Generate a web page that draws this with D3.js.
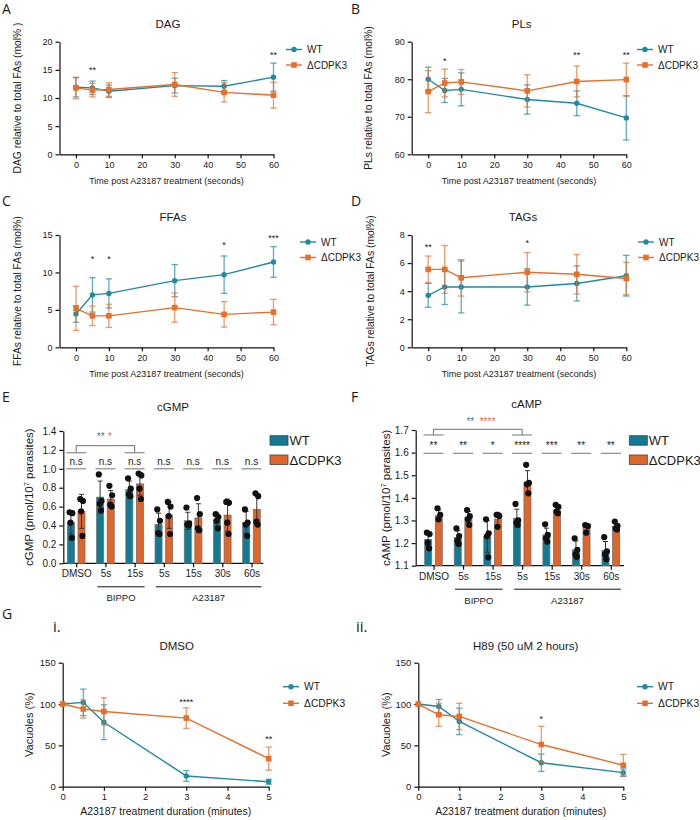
<!DOCTYPE html>
<html>
<head>
<meta charset="utf-8">
<script src="https://cdn.jsdelivr.net/npm/d3@7"></script>
<style>
  body { margin: 0; background: #fff; }
  svg text { font-family: "Liberation Sans", Arial, sans-serif; fill: #1a1a1a; }
  .letter { font-family: "Open Sans", "Liberation Sans", sans-serif !important; }
</style>
</head>
<body>
<div id="chart"></div>
<script>
// ---- lipid time courses (seconds post A23187) ----
const timesSec = [0, 5, 10, 30, 45, 60];

const dagWT   = [11.9, 11.8, 11.2, 12.2, 12.1, 13.7];
const dagWTsd = [1.7, 1.2, 1.1, 1.3, 1.0, 2.5];
const dagKO   = [11.8, 11.4, 11.5, 12.4, 11.0, 10.5];
const dagKOsd = [1.9, 1.2, 1.2, 2.1, 1.7, 2.3];
const dagStars = [{ t: 5, v: 15.3, s: "**" }, { t: 60, v: 18, s: "**" }];

const plWT   = [80.0, 77.0, 77.3, 74.6, 73.6, 69.7];
const plWTsd = [3.2, 3.2, 4.4, 3.9, 3.3, 5.9];
const plKO   = [76.7, 79.0, 79.3, 76.9, 79.4, 79.9];
const plKOsd = [5.6, 3.7, 3.3, 4.3, 4.1, 4.4];
const plStars = [{ t: 5, v: 85.4, s: "*" }, { t: 45, v: 87, s: "**" }, { t: 60, v: 87, s: "**" }];

const ffaWT   = [4.45, 7.0, 7.2, 8.9, 9.7, 11.4];
const ffaWTsd = [1.1, 2.3, 1.95, 2.15, 2.5, 2.05];
const ffaKO   = [5.2, 4.2, 4.2, 5.3, 4.4, 4.7];
const ffaKOsd = [2.95, 1.3, 1.55, 1.95, 1.7, 1.7];
const ffaStars = [{ t: 5, v: 12.1, s: "*" }, { t: 10, v: 12.1, s: "*" }, { t: 45, v: 13.9, s: "*" }, { t: 60, v: 14.9, s: "***" }];

const tagWT   = [3.7, 4.3, 4.3, 4.3, 4.55, 5.1];
const tagWTsd = [0.85, 1.25, 1.85, 1.3, 1.25, 1.45];
const tagKO   = [5.55, 5.55, 4.95, 5.35, 5.2, 4.9];
const tagKOsd = [0.95, 1.7, 1.3, 1.4, 1.4, 1.15];
const tagStars = [{ t: 0, v: 7.3, s: "**" }, { t: 30, v: 7.6, s: "*" }];

// ---- cyclic nucleotides ----
const treatLabels = ["DMSO", "5s", "15s", "5s", "15s", "30s", "60s"];

const cgmpWT   = [0.43, 0.70, 0.78, 0.41, 0.45, 0.46, 0.43];
const cgmpWTsd = [0.12, 0.17, 0.09, 0.12, 0.09, 0.07, 0.12];
const cgmpKO   = [0.55, 0.68, 0.84, 0.51, 0.48, 0.51, 0.57];
const cgmpKOsd = [0.18, 0.09, 0.12, 0.14, 0.15, 0.17, 0.16];
const cgmpWTpts = [[0.54, 0.53, 0.43, 0.27], [0.94, 0.66, 0.63, 0.56], [0.90, 0.79, 0.73, 0.71],
  [0.57, 0.45, 0.32, 0.31], [0.59, 0.42, 0.41, 0.40], [0.52, 0.49, 0.45, 0.37], [0.57, 0.43, 0.41, 0.29]];
const cgmpKOpts = [[0.68, 0.66, 0.55, 0.29], [0.82, 0.72, 0.62, 0.60], [0.95, 0.93, 0.79, 0.68],
  [0.65, 0.60, 0.50, 0.31], [0.69, 0.52, 0.37, 0.35], [0.65, 0.64, 0.43, 0.31], [0.74, 0.71, 0.44, 0.41]];
const cgmpSig = ["n.s", "n.s", "n.s", "n.s", "n.s", "n.s", "n.s"];

const campWT   = [1.216, 1.225, 1.229, 1.31, 1.236, 1.17, 1.167];
const campWTsd = [0.03, 0.03, 0.07, 0.04, 0.03, 0.04, 0.04];
const campKO   = [1.321, 1.315, 1.306, 1.47, 1.345, 1.27, 1.274];
const campKOsd = [0.025, 0.025, 0.03, 0.05, 0.02, 0.015, 0.012];
const campWTpts = [[1.246, 1.240, 1.202, 1.177], [1.265, 1.231, 1.210, 1.196], [1.305, 1.243, 1.230, 1.137],
  [1.373, 1.300, 1.290, 1.280], [1.283, 1.236, 1.221, 1.206], [1.221, 1.170, 1.150, 1.140], [1.226, 1.164, 1.150, 1.128]];
const campKOpts = [[1.354, 1.325, 1.305], [1.346, 1.319, 1.305, 1.280], [1.325, 1.320, 1.272],
  [1.546, 1.466, 1.460, 1.420], [1.369, 1.360, 1.340, 1.332], [1.280, 1.275, 1.246], [1.295, 1.276, 1.265, 1.260]];
const campSig = ["**", "**", "*", "****", "***", "**", "**"];

// ---- vacuole egress (minutes of A23187) ----
const minutes = [0, 0.5, 1, 3, 5];
const dmsoWT   = [100, 102, 78, 13, 6];
const dmsoWTsd = [0, 16, 21, 6.5, 3];
const dmsoKO   = [100, 94, 91, 83, 34];
const dmsoKOsd = [0, 11, 16.5, 12.5, 14];
const dmsoStars = [{ t: 3, v: 105, s: "****" }, { t: 5, v: 60, s: "**" }];
const h89WT   = [100, 97, 79, 29, 17];
const h89WTsd = [0, 8.5, 16, 10.5, 4.5];
const h89KO   = [100, 87, 85, 51, 26];
const h89KOsd = [0, 14, 16, 22, 13];
const h89Stars = [{ t: 3, v: 84, s: "*" }];

const teal = "#2189a3", orange = "#e66f2c";
const barTeal = "#137a93", barOrange = "#e0652a";

const svg = d3.select("#chart").append("svg").attr("width", 700).attr("height", 820);

function styleAxis(a, fs) {
  a.selectAll("path, line").attr("stroke", "#111").attr("stroke-width", 1.2);
  a.selectAll("text").attr("font-size", fs).attr("fill", "#1a1a1a");
}

function letter(txt, x, y, size) {
  svg.append("text").attr("class", "letter").attr("x", x).attr("y", y)
    .attr("font-size", size || 14).text(txt);
}

function lineChart(o) {
  const x = d3.scaleLinear().domain(o.xDomain).range([o.left, o.right]);
  const y = d3.scaleLinear().domain(o.yDomain).range([o.bottom, o.top]);
  const g = svg.append("g");

  g.append("g").attr("transform", `translate(0,${o.bottom})`)
    .call(d3.axisBottom(x).tickValues(o.xTicks).tickFormat(d3.format("d"))
      .tickSize(4).tickSizeOuter(0).tickPadding(3))
    .call(a => styleAxis(a, o.tickFs));
  g.append("g").attr("transform", `translate(${o.left},0)`)
    .call(d3.axisLeft(y).tickValues(o.yTicks).tickFormat(d3.format("d"))
      .tickSize(4).tickSizeOuter(0).tickPadding(3))
    .call(a => styleAxis(a, o.tickFs));

  o.series.forEach(s => {
    const pts = o.xs.map((t, i) => ({ t, m: s.mean[i], sd: s.sd[i] }));
    const eb = g.append("g").attr("stroke", s.color).attr("stroke-opacity", 0.7).attr("stroke-width", 1.3);
    const withErr = pts.filter(d => d.sd > 0);
    eb.selectAll(".v").data(withErr).join("line")
      .attr("x1", d => x(d.t)).attr("x2", d => x(d.t))
      .attr("y1", d => y(d.m - d.sd)).attr("y2", d => y(d.m + d.sd));
    [-1, 1].forEach(k => {
      eb.selectAll(".c" + k).data(withErr).join("line")
        .attr("x1", d => x(d.t) - 3.2).attr("x2", d => x(d.t) + 3.2)
        .attr("y1", d => y(d.m + k * d.sd)).attr("y2", d => y(d.m + k * d.sd));
    });
    g.append("path").datum(pts)
      .attr("d", d3.line().x(d => x(d.t)).y(d => y(d.m)))
      .attr("fill", "none").attr("stroke", s.color).attr("stroke-width", 1.4);
    if (s.shape === "circle") {
      g.selectAll(null).data(pts).join("circle")
        .attr("cx", d => x(d.t)).attr("cy", d => y(d.m)).attr("r", 2.7).attr("fill", s.color);
    } else {
      g.selectAll(null).data(pts).join("rect")
        .attr("x", d => x(d.t) - 2.8).attr("y", d => y(d.m) - 2.8)
        .attr("width", 5.6).attr("height", 5.6).attr("fill", s.color);
    }
  });

  g.selectAll(null).data(o.stars).join("text")
    .attr("x", d => x(d.t)).attr("y", d => y(d.v) + 5)
    .attr("text-anchor", "middle").attr("font-size", 9).text(d => d.s);

  // legend
  o.series.forEach((s, i) => {
    const ly = o.legY + i * o.legGap;
    g.append("line").attr("x1", o.legX).attr("x2", o.legX + 16)
      .attr("y1", ly).attr("y2", ly).attr("stroke", s.color).attr("stroke-width", 1.4);
    if (s.shape === "circle") {
      g.append("circle").attr("cx", o.legX + 8).attr("cy", ly).attr("r", 2.7).attr("fill", s.color);
    } else {
      g.append("rect").attr("x", o.legX + 5.2).attr("y", ly - 2.8)
        .attr("width", 5.6).attr("height", 5.6).attr("fill", s.color);
    }
    g.append("text").attr("x", o.legX + 21).attr("y", ly + 3.6)
      .attr("font-size", o.legFs).text(s.name);
  });

  g.append("text").attr("x", o.titleX).attr("y", o.titleY)
    .attr("text-anchor", "middle").attr("font-size", 11.5).text(o.title);
  g.append("text").attr("x", (o.left + o.right) / 2).attr("y", o.xlabY)
    .attr("text-anchor", "middle").attr("font-size", o.labFs).text(o.xlabel);
  g.append("text").attr("transform", `translate(${o.ylabX},${(o.top + o.bottom) / 2}) rotate(-90)`)
    .attr("text-anchor", "middle").attr("font-size", o.ylabFs).text(o.ylabel);
}

function barChart(o) {
  const idx = d3.range(o.labels.length);
  const x = d3.scalePoint().domain(idx).range([o.c0, o.c1]);
  const y = d3.scaleLinear().domain(o.yDomain).range([o.bottom, o.top]);
  const g = svg.append("g");
  const bw = 7, off = 5.3;

  const xa = g.append("g").attr("transform", `translate(0,${o.bottom})`)
    .call(d3.axisBottom(x).tickFormat(i => o.labels[i]).tickSize(4).tickPadding(3))
    .call(a => styleAxis(a, 10));
  xa.select(".domain").remove();
  g.append("line").attr("x1", o.left).attr("x2", o.right)
    .attr("y1", o.bottom).attr("y2", o.bottom).attr("stroke", "#111").attr("stroke-width", 1.3);
  g.append("g").attr("transform", `translate(${o.left},0)`)
    .call(d3.axisLeft(y).tickValues(o.yTicks).tickFormat(d3.format(".1f")).tickSize(4).tickSizeOuter(0).tickPadding(3))
    .call(a => styleAxis(a, 10));

  const groups = [
    { mean: o.wt, sd: o.wtSd, pts: o.wtPts, color: barTeal, dx: -off },
    { mean: o.ko, sd: o.koSd, pts: o.koPts, color: barOrange, dx: off }
  ];
  const jitter = [-1.3, 1.4, -0.4, 0.9];
  groups.forEach(s => {
    const d = idx.map(i => ({ i, m: s.mean[i], sd: s.sd[i], pts: s.pts[i] }));
    g.selectAll(null).data(d).join("rect")
      .attr("x", e => x(e.i) + s.dx - bw / 2).attr("width", bw)
      .attr("y", e => y(e.m)).attr("height", e => o.bottom - y(e.m))
      .attr("fill", s.color).attr("stroke", "#707070").attr("stroke-width", 0.8);
    const eb = g.append("g").attr("stroke", "#333").attr("stroke-width", 1);
    eb.selectAll(null).data(d).join("line")
      .attr("x1", e => x(e.i) + s.dx).attr("x2", e => x(e.i) + s.dx)
      .attr("y1", e => y(e.m - e.sd)).attr("y2", e => y(e.m + e.sd));
    [-1, 1].forEach(k => {
      eb.selectAll(null).data(d).join("line")
        .attr("x1", e => x(e.i) + s.dx - 2.5).attr("x2", e => x(e.i) + s.dx + 2.5)
        .attr("y1", e => y(e.m + k * e.sd)).attr("y2", e => y(e.m + k * e.sd));
    });
    d.forEach(e => {
      g.selectAll(null).data(e.pts).join("circle")
        .attr("cx", (p, j) => x(e.i) + s.dx + jitter[j % 4]).attr("cy", p => y(p))
        .attr("r", 3.1).attr("fill", "#111");
    });
  });

  // per-group significance
  const sg = g.append("g");
  idx.forEach(i => {
    sg.append("line").attr("x1", x(i) - 10).attr("x2", x(i) + 10)
      .attr("y1", y(o.sigLevel)).attr("y2", y(o.sigLevel))
      .attr("stroke", "#8a8a8a").attr("stroke-width", 1.2);
    sg.append("text").attr("x", x(i)).attr("y", y(o.sigLevel) + o.sigDy)
      .attr("text-anchor", "middle").attr("font-size", 10).text(o.sig[i]);
  });

  // bracket between DMSO and a treatment
  const b = o.bracket;
  const bs = g.append("g").attr("stroke", "#8a8a8a").attr("stroke-width", 1.2).attr("fill", "none");
  [b.from, b.to].forEach(i => {
    bs.append("line").attr("x1", x(i) - 10).attr("x2", x(i) + 10)
      .attr("y1", y(b.stub)).attr("y2", y(b.stub));
  });
  bs.append("path").attr("d",
    `M${x(b.from)},${y(b.stub)}V${y(b.top)}H${x(b.to)}V${y(b.stub)}`);
  b.stars.forEach(st => {
    g.append("text").attr("x", st.x).attr("y", y(b.starLevel))
      .attr("text-anchor", "middle").attr("font-size", 10)
      .style("fill", st.color).text(st.s);
  });

  // treatment group labels under axis
  o.spans.forEach(sp => {
    g.append("line").attr("x1", x(sp.from) - 8).attr("x2", x(sp.to) + 10)
      .attr("y1", o.bottom + 23.5).attr("y2", o.bottom + 23.5)
      .attr("stroke", "#111").attr("stroke-width", 1);
    g.append("text").attr("x", (x(sp.from) + x(sp.to)) / 2 + 1).attr("y", o.bottom + 38)
      .attr("text-anchor", "middle").attr("font-size", 9.5).text(sp.name);
  });

  // legend
  [["WT", barTeal], ["\u0394CDPK3", barOrange]].forEach((l, i) => {
    g.append("rect").attr("x", o.legX).attr("y", o.legY + i * 19.3)
      .attr("width", 18).attr("height", 9.5).attr("fill", l[1])
      .attr("stroke", "#444").attr("stroke-width", 0.8);
    g.append("text").attr("x", o.legX + 19.5).attr("y", o.legY + i * 19.3 + 9.5)
      .attr("font-size", 13).text(l[0]);
  });

  g.append("text").attr("x", o.titleX).attr("y", o.titleY)
    .attr("text-anchor", "middle").attr("font-size", 11.5).text(o.title);
  const yl = g.append("text")
    .attr("transform", `translate(${o.ylabX},${(o.top + o.bottom) / 2}) rotate(-90)`)
    .attr("text-anchor", "middle").attr("font-size", 11.5);
  yl.append("tspan").text(o.ylabel + " (pmol/10");
  yl.append("tspan").attr("dy", -4.5).attr("font-size", 7.5).text("7");
  yl.append("tspan").attr("dy", 4.5).text(" parasites)");
}

const legendSeries = (wt, wtSd, ko, koSd) => [
  { name: "WT", mean: wt, sd: wtSd, color: teal, shape: "circle" },
  { name: "\u0394CDPK3", mean: ko, sd: koSd, color: orange, shape: "square" }
];

const secLabel = "Time post A23187 treatment (seconds)";
const lipidCommon = { xs: timesSec, xDomain: [-5, 60], xTicks: [0, 10, 20, 30, 40, 50, 60],
  tickFs: 9, labFs: 9, ylabFs: 10.3, legFs: 10, legGap: 15.5, xlabel: secLabel };

// A
lineChart(Object.assign({}, lipidCommon, {
  left: 59.5, right: 273.5, top: 41.7, bottom: 154.3, yDomain: [0, 20], yTicks: [0, 5, 10, 15, 20],
  series: legendSeries(dagWT, dagWTsd, dagKO, dagKOsd), stars: dagStars,
  title: "DAG", titleX: 168, titleY: 27.5, xlabY: 184, ylabX: 21,
  ylabel: "DAG relative to total FAs (mol% )", legX: 286, legY: 49.5
}));
// B
lineChart(Object.assign({}, lipidCommon, {
  left: 411.7, right: 626.3, top: 41.7, bottom: 154.3, yDomain: [60, 90], yTicks: [60, 70, 80, 90],
  series: legendSeries(plWT, plWTsd, plKO, plKOsd), stars: plStars,
  title: "PLs", titleX: 521.7, titleY: 27.5, xlabY: 184, ylabX: 372,
  ylabel: "PLs relative to total FAs (mol%)", legX: 637, legY: 49.5
}));
// C
lineChart(Object.assign({}, lipidCommon, {
  left: 59.5, right: 273.5, top: 235, bottom: 347.3, yDomain: [0, 15], yTicks: [0, 5, 10, 15],
  series: legendSeries(ffaWT, ffaWTsd, ffaKO, ffaKOsd), stars: ffaStars,
  title: "FFAs", titleX: 173, titleY: 220.5, xlabY: 377, ylabX: 21,
  ylabel: "FFAs relative to total FAs (mol%)", legX: 300, legY: 242
}));
// D
lineChart(Object.assign({}, lipidCommon, {
  left: 411.7, right: 626.3, top: 235, bottom: 347.3, yDomain: [0, 8], yTicks: [0, 2, 4, 6, 8],
  series: legendSeries(tagWT, tagWTsd, tagKO, tagKOsd), stars: tagStars,
  title: "TAGs", titleX: 523, titleY: 220.5, xlabY: 377, ylabX: 374,
  ylabel: "TAGs relative to total FAs (mol%)", legX: 638, legY: 242
}));

// E
barChart({
  labels: treatLabels, left: 63.3, right: 263.3, c0: 76.2, c1: 251.5,
  top: 431, bottom: 563.3, yDomain: [0, 1.4], yTicks: d3.range(0, 1.41, 0.2),
  wt: cgmpWT, wtSd: cgmpWTsd, ko: cgmpKO, koSd: cgmpKOsd, wtPts: cgmpWTpts, koPts: cgmpKOpts,
  sig: cgmpSig, sigLevel: 1.0, sigDy: -4,
  bracket: { from: 0, to: 2, stub: 1.17, top: 1.245, starLevel: 1.31,
    stars: [{ x: 100.7, s: "**", color: teal }, { x: 110, s: "*", color: orange }] },
  spans: [{ name: "BIPPO", from: 1, to: 2 }, { name: "A23187", from: 3, to: 6 }],
  legX: 270, legY: 435.7, title: "cGMP", titleX: 173, titleY: 411, ylabX: 33, ylabel: "cGMP"
});

// F
barChart({
  labels: treatLabels, left: 415.7, right: 624, c0: 433.5, c1: 610.8,
  top: 430, bottom: 565.7, yDomain: [1.1, 1.7], yTicks: d3.range(1.1, 1.71, 0.1),
  wt: campWT, wtSd: campWTsd, ko: campKO, koSd: campKOsd, wtPts: campWTpts, koPts: campKOpts,
  sig: campSig, sigLevel: 1.597, sigDy: -4,
  bracket: { from: 0, to: 3, stub: 1.678, top: 1.703, starLevel: 1.72,
    stars: [{ x: 470.3, s: "**", color: teal }, { x: 487.5, s: "****", color: orange }] },
  spans: [{ name: "BIPPO", from: 1, to: 2 }, { name: "A23187", from: 3, to: 6 }],
  legX: 629.3, legY: 435.7, title: "cAMP", titleX: 526.7, titleY: 408, ylabX: 390, ylabel: "cAMP"
});

// G
const vacCommon = { xs: minutes, xDomain: [0, 5], xTicks: [0, 1, 2, 3, 4, 5],
  yDomain: [0, 150], yTicks: [0, 50, 100, 150], top: 662.7, bottom: 786.7,
  tickFs: 9.5, labFs: 10.5, ylabFs: 11, legFs: 10.3, legGap: 16.6,
  xlabel: "A23187 treatment duration (minutes)", ylabel: "Vacuoles (%)", titleY: 650, xlabY: 815 };

lineChart(Object.assign({}, vacCommon, {
  left: 62.7, right: 268.7, series: legendSeries(dmsoWT, dmsoWTsd, dmsoKO, dmsoKOsd),
  stars: dmsoStars, title: "DMSO", titleX: 176.7, ylabX: 33, legX: 283, legY: 686.7
}));
lineChart(Object.assign({}, vacCommon, {
  left: 418.3, right: 623.3, series: legendSeries(h89WT, h89WTsd, h89KO, h89KOsd),
  stars: h89Stars, title: "H89 (50 uM 2 hours)", titleX: 525.7, ylabX: 390, legX: 637, legY: 686.7
}));

letter("A", 2, 14); letter("B", 351, 14);
letter("C", 2, 206); letter("D", 351, 206);
letter("E", 2, 402); letter("F", 351, 402);
letter("G", 2, 619);
letter("i.", 53, 632, 15); letter("ii.", 356, 632, 15);
</script>
</body>
</html>
